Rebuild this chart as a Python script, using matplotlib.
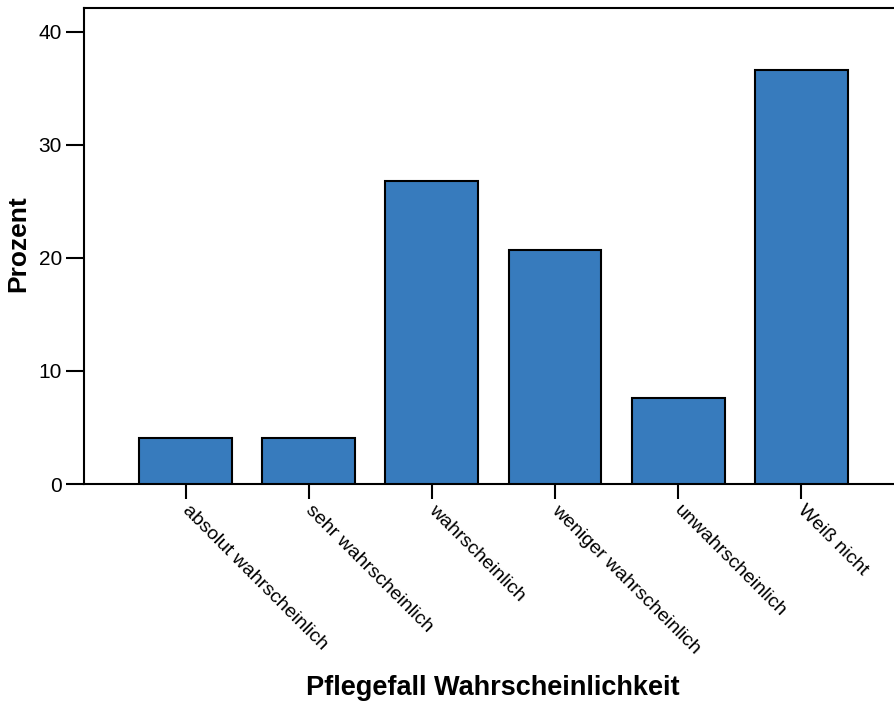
import numpy as np
import matplotlib.pyplot as plt
import matplotlib.transforms as mtransforms

plt.rcParams['font.family'] = ['Liberation Sans', 'DejaVu Sans']

categories = ['absolut wahrscheinlich', 'sehr wahrscheinlich', 'wahrscheinlich',
              'weniger wahrscheinlich', 'unwahrscheinlich', 'Weiß nicht']
prozent = [4.1, 4.1, 26.8, 20.7, 7.6, 36.6]
yticks = [0, 10, 20, 30, 40]

fig = plt.figure(figsize=(8.95, 7.04), dpi=100)
ax = fig.add_axes([84 / 895, 220 / 704, 1 - 84 / 895, 476 / 704])

x = np.arange(len(categories))
ax.bar(x, prozent, width=0.756, color='#377bbd', edgecolor='black', linewidth=1.5, zorder=3)

ax.set_xlim(-0.829, 5.764)
ax.set_ylim(0, 42.12)
ax.set_yticks(yticks)
ax.set_xticks(x)
ax.set_xticklabels(categories, rotation=-45, ha='left', va='top', rotation_mode='anchor', fontsize=14)
ax.tick_params(axis='y', labelsize=15, length=13, width=1.5, pad=3)
ax.tick_params(axis='x', length=11, width=1.5, pad=2)

# nudge rotated labels slightly right
offset = mtransforms.ScaledTranslation(5 / 100, 0, fig.dpi_scale_trans)
for lab in ax.get_xticklabels():
    lab.set_transform(lab.get_transform() + offset)

for s in ['left', 'bottom', 'top']:
    ax.spines[s].set_linewidth(1.5)
ax.spines['right'].set_visible(False)

ax.set_ylabel('Prozent', fontsize=19, fontweight='bold')
ax.yaxis.label.set_va('center')
ax.yaxis.label.set_rotation_mode('default')
ax.yaxis.set_label_coords((18 - 84) / 811, (484 - 244) / 476)

ax.set_xlabel('Pflegefall Wahrscheinlichkeit', fontsize=19.5, fontweight='bold')
ax.xaxis.set_label_coords((493 - 84) / 811, -(688 - 484) / 476)
ax.xaxis.label.set_va('center')

fig.savefig('out.png', dpi=100)
